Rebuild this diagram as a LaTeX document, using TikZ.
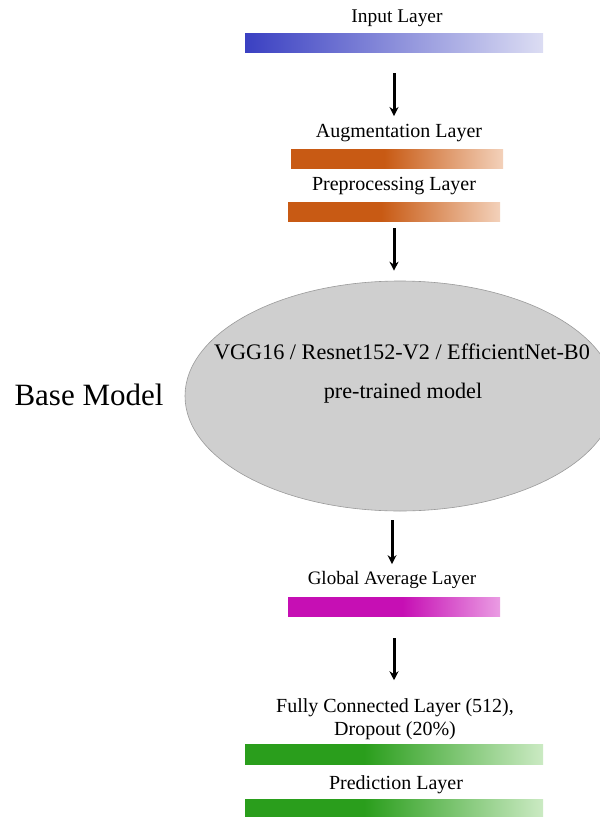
\documentclass[tikz,border=0pt]{standalone}
\usepackage{fontspec}
\setmainfont{Liberation Serif}
\usetikzlibrary{arrows.meta,shapes.geometric}
\definecolor{b1}{HTML}{3A40C2}
\definecolor{b2}{HTML}{DCDDF3}
\definecolor{o1}{HTML}{C85A14}
\definecolor{o2}{HTML}{F3D1BA}
\definecolor{m1}{HTML}{C60FB4}
\definecolor{m2}{HTML}{EA9CE3}
\definecolor{g1}{HTML}{2A9E1C}
\definecolor{g2}{HTML}{CBEAC3}
\definecolor{ellfill}{HTML}{CFCFCF}
\definecolor{ellline}{HTML}{9A9A9A}
\definecolor{tipcol}{HTML}{10240F}
\pgfdeclarehorizontalshading{blueshade}{100bp}{color(0bp)=(b1); color(25bp)=(b1); color(75bp)=(b2); color(100bp)=(b2)}
\pgfdeclarehorizontalshading{orangeshade}{100bp}{color(0bp)=(o1); color(25bp)=(o1); color(47bp)=(o1); color(75bp)=(o2); color(100bp)=(o2)}
\pgfdeclarehorizontalshading{magentashade}{100bp}{color(0bp)=(m1); color(25bp)=(m1); color(52bp)=(m1); color(75bp)=(m2); color(100bp)=(m2)}
\pgfdeclarehorizontalshading{greenshade}{100bp}{color(0bp)=(g1); color(25bp)=(g1); color(45bp)=(g1); color(75bp)=(g2); color(100bp)=(g2)}
\begin{document}
\begin{tikzpicture}[x=1pt,y=-1pt,
  lbl/.style={inner sep=0pt, font=\fontsize{20}{23}\selectfont},
  bigtxt/.style={inner sep=0pt, font=\fontsize{22.2}{26}\selectfont},
  bar/.style={rectangle, draw=none, inner sep=0pt, shade},
  arr/.style={line width=3pt, black, -{Stealth[length=9pt,width=9pt,fill=tipcol]}}
]
\useasboundingbox (0,0) rectangle (600,817);
\begin{scope}
\clip (0,0) rectangle (600,817);
% ellipse
\node[ellipse, draw=ellline, line width=0.6pt, fill=ellfill, minimum width=430pt, minimum height=230pt] (ell) at (400,396) {};
\end{scope}
\node[bigtxt] (vgg) at (402,352) {VGG16 / Resnet152-V2 / EfficientNet-B0};
\node[bigtxt] (pre) at (403,393) {pre-trained model};
\node[inner sep=0pt, font=\fontsize{31}{36}\selectfont] (base) at (89,395) {Base Model};

% bars
\node[bar, shading=blueshade, minimum width=298pt, minimum height=19pt] (inbar) at (394,42.5) {};
\node[bar, shading=orangeshade, minimum width=212pt, minimum height=18.5pt] (augbar) at (397,159) {};
\node[bar, shading=orangeshade, minimum width=212pt, minimum height=19pt] (ppbar) at (394,211.5) {};
\node[bar, shading=magentashade, minimum width=212pt, minimum height=19pt] (gabar) at (394,606.5) {};
\node[bar, shading=greenshade, minimum width=298pt, minimum height=19.5pt] (fcbar) at (394,754.5) {};
\node[bar, shading=greenshade, minimum width=298pt, minimum height=19pt] (predbar) at (394,808.5) {};

% labels
\node[lbl, font=\fontsize{19.4}{23}\selectfont] (inlbl) at (397,18) {Input Layer};
\node[lbl] (auglbl) at (399,133) {Augmentation Layer};
\node[lbl] (pplbl) at (394,186) {Preprocessing Layer};
\node[lbl, font=\fontsize{19}{23}\selectfont] (galbl) at (392,580) {Global Average Layer};
\node[lbl, align=center] (fclbl) at (395,719) {Fully Connected Layer (512),\\Dropout (20\%)};
\node[lbl] (predlbl) at (396,785) {Prediction Layer};

% arrows
\draw[arr, shorten <=21pt, shorten >=8pt] (inbar.south) -- (inbar.south |- auglbl.north);
\draw[arr, shorten <=7pt, shorten >=10pt] (ppbar.south) -- (ppbar.south |- ell.north);
\draw[arr, shorten <=9pt, shorten >=7pt] (galbl.north |- ell.south) -- (galbl.north);
\draw[arr, shorten <=22pt, shorten >=18pt] (gabar.south) -- (gabar.south |- fclbl.north);
\end{tikzpicture}
\end{document}
